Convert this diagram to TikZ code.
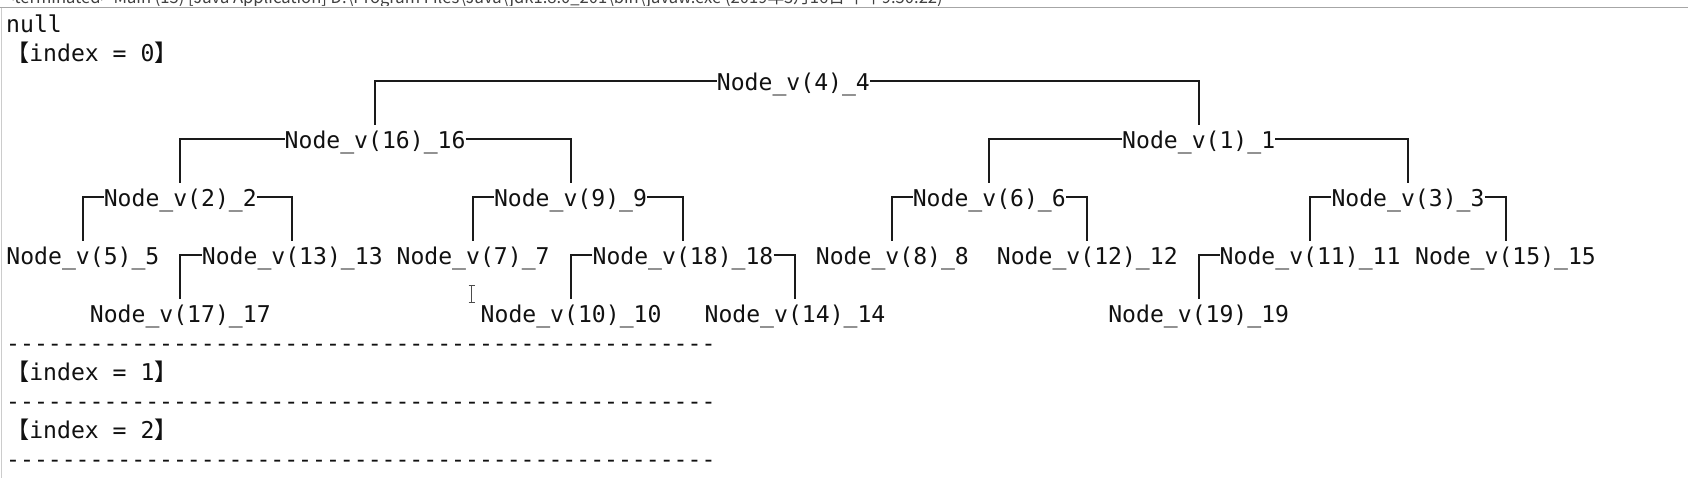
\documentclass[tikz,border=0pt]{standalone}
\usepackage{fontspec}
\newfontfamily\mono{DejaVu Sans Mono}
\newfontfamily\cjk{Noto Sans CJK SC}
\definecolor{txt}{HTML}{111111}
\definecolor{lnc}{HTML}{1A1A1A}
\tikzset{
  tn/.style={inner sep=0pt, text height=23pt, text depth=5pt, anchor=base,
    font=\mono\fontsize{23.1}{27}\selectfont, text=txt},
  ln/.style={inner sep=0pt, anchor=base west,
    font=\mono\fontsize{23.1}{27}\selectfont, text=txt},
  conn/.style={line width=2pt, draw=lnc},
}
\begin{document}
\begin{tikzpicture}[x=1pt,y=-1pt]
\useasboundingbox (0,0) rectangle (1688,478);
\fill[white] (0,0) rectangle (1688,478);
% window chrome
\begin{scope}
  \clip (0,0) rectangle (1688,6);
  \node[inner sep=0pt, anchor=base west, font=\cjk\fontsize{16.6}{18}\selectfont, text=black!75] (hdr) at (5,3.5)
    {<terminated> Main (15) [Java Application] D:\textbackslash Program Files\textbackslash Java\textbackslash jdk1.8.0\_201\textbackslash bin\textbackslash javaw.exe (2019年3月16日 下午9:50:22)};
\end{scope}
\draw[black!35, line width=1.5pt] (0,7.3) -- (1688,7.3);
\draw[black!20, line width=1pt] (1,8) -- (1,478);
% left column text
\node[ln] (null) at (6,32.5) {null};
\node[ln] (idx0) at (6,61.5) {{\cjk 【}index = 0{\cjk 】}};
\node[ln] (d1) at (6,351.5) {---------------------------------------------------};
\node[ln] (idx1) at (6,380.5) {{\cjk 【}index = 1{\cjk 】}};
\node[ln] (d2) at (6,409.5) {---------------------------------------------------};
\node[ln] (idx2) at (6,438.5) {{\cjk 【}index = 2{\cjk 】}};
\node[ln] (d3) at (6,467.5) {---------------------------------------------------};
% tree nodes
\node[tn] (n4)  at (793.4,90.5)  {Node\_v(4)\_4};
\node[tn] (n16) at (375.1,148.5) {Node\_v(16)\_16};
\node[tn] (n1)  at (1198.7,148.5) {Node\_v(1)\_1};
\node[tn] (n2)  at (180.3,206.5) {Node\_v(2)\_2};
\node[tn] (n9)  at (570.5,206.5) {Node\_v(9)\_9};
\node[tn] (n6)  at (989.3,206.5) {Node\_v(6)\_6};
\node[tn] (n3)  at (1408,206.5)  {Node\_v(3)\_3};
\node[tn] (n5)  at (82.9,264.5)  {Node\_v(5)\_5};
\node[tn] (n13) at (292.3,264.5) {Node\_v(13)\_13};
\node[tn] (n7)  at (473.1,264.5) {Node\_v(7)\_7};
\node[tn] (n18) at (683,264.5)   {Node\_v(18)\_18};
\node[tn] (n8)  at (892.4,264.5) {Node\_v(8)\_8};
\node[tn] (n12) at (1087.3,264.5) {Node\_v(12)\_12};
\node[tn] (n11) at (1310.1,264.5) {Node\_v(11)\_11};
\node[tn] (n15) at (1505.5,264.5) {Node\_v(15)\_15};
\node[tn] (n17) at (180.3,322.5) {Node\_v(17)\_17};
\node[tn] (n10) at (571.1,322.5) {Node\_v(10)\_10};
\node[tn] (n14) at (795,322.5)   {Node\_v(14)\_14};
\node[tn] (n19) at (1198.7,322.5) {Node\_v(19)\_19};
% connectors
\draw[conn] (n4.west) -| (n16.north);
\draw[conn] (n4.east) -| (n1.north);
\draw[conn] (n16.west) -| (n2.north);
\draw[conn] (n16.east) -| (n9.north);
\draw[conn] (n1.west) -| (n6.north);
\draw[conn] (n1.east) -| (n3.north);
\draw[conn] (n2.west) -| (n5.north);
\draw[conn] (n2.east) -| (n13.north);
\draw[conn] (n9.west) -| (n7.north);
\draw[conn] (n9.east) -| (n18.north);
\draw[conn] (n6.west) -| (n8.north);
\draw[conn] (n6.east) -| (n12.north);
\draw[conn] (n3.west) -| (n11.north);
\draw[conn] (n3.east) -| (n15.north);
\draw[conn] (n13.west) -| (n17.north);
\draw[conn] (n18.west) -| (n10.north);
\draw[conn] (n18.east) -| (n14.north);
\draw[conn] (n11.west) -| (n19.north);
% mouse I-beam cursor
\draw[black!70, line width=1pt] (468.5,285.5) -- (474.5,285.5)
  (471.5,285.5) -- (471.5,302.5) (468.5,302.5) -- (474.5,302.5);
\end{tikzpicture}
\end{document}
